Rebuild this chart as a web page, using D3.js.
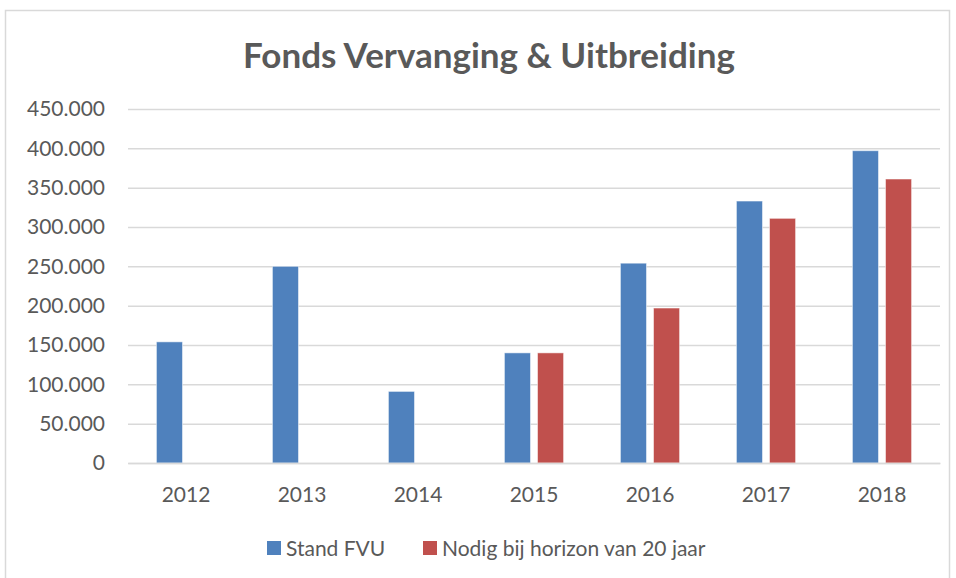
<!DOCTYPE html>
<html>
<head>
<meta charset="utf-8">
<script src="https://cdn.jsdelivr.net/npm/d3@7"></script>
<style>
  body { margin: 0; background: #fff; }
  text { font-family: Lato, "Open Sans", sans-serif; fill: #595959; }
</style>
</head>
<body>
<script>
const years = ['2012', '2013', '2014', '2015', '2016', '2017', '2018']
const standFVU = [154000, 250000, 91000, 140000, 254000, 333000, 397000]
const nodig = [null, null, null, 140000, 197000, 311000, 361000]
const seriesNames = ['Stand FVU', 'Nodig bij horizon van 20 jaar']
const seriesColors = ['#4F81BD', '#C0504D']
const yTicks = [0, 50000, 100000, 150000, 200000, 250000, 300000, 350000, 400000, 450000]

const W = 956, H = 578
const margin = { top: 109, right: 16, bottom: 115, left: 128 }
const width = W - margin.left - margin.right
const height = H - margin.top - margin.bottom

const svg = d3.select('body').append('svg')
    .attr('width', W)
    .attr('height', H)

// chart area border
svg.append('rect')
    .attr('x', 5.5).attr('y', 10.5)
    .attr('width', 944).attr('height', 600)
    .style('fill', 'none')
    .style('stroke', '#D9D9D9')
    .style('stroke-width', 1.5)

svg.append('text')
    .attr('x', 489)
    .attr('y', 68)
    .style('text-anchor', 'middle')
    .style('font-size', '35px')
    .style('font-weight', 'bold')
    .text('Fonds Vervanging & Uitbreiding')

const g = svg.append('g')
    .attr('transform', `translate(${margin.left}, ${margin.top})`)

const x0 = d3.scaleBand()
    .domain(years)
    .range([0, width])
    .padding(0)

const groupW = x0.bandwidth() * 0.51
const x1 = d3.scaleBand()
    .domain([0, 1])
    .range([(x0.bandwidth() - groupW) / 2, (x0.bandwidth() + groupW) / 2])
    .paddingInner(0.212)

const y = d3.scaleLinear()
    .domain([0, 450000])
    .range([height, 0])

const fmt = d => d3.format(',')(d).replace(/,/g, '.')

const yAxis = g.append('g')
    .call(d3.axisLeft(y).tickValues(yTicks).tickSize(-width).tickFormat(fmt))
yAxis.select('.domain').remove()
yAxis.selectAll('.tick line')
    .style('stroke', '#D9D9D9')
    .style('stroke-width', 1.5)
yAxis.selectAll('.tick text')
    .attr('x', -23)
    .style('font-size', '21px')
    .style('font-family', 'Lato, sans-serif')
    .style('fill', '#595959')

const series = [standFVU, nodig]
series.forEach((vals, si) => {
    g.selectAll('.bar' + si)
        .data(years.map((yr, i) => ({ yr, v: vals[i] })).filter(d => d.v != null))
        .enter().append('rect')
        .attr('class', 'bar' + si)
        .attr('x', d => x0(d.yr) + x1(si))
        .attr('y', d => y(d.v))
        .attr('width', x1.bandwidth())
        .attr('height', d => height - y(d.v))
        .style('fill', seriesColors[si])
        .style('stroke', '#fff')
        .style('stroke-opacity', 0.5)
        .style('stroke-width', 1)
})

const xAxis = g.append('g')
    .attr('transform', `translate(0, ${height})`)
    .call(d3.axisBottom(x0).tickSize(0))
xAxis.select('.domain')
    .style('stroke', '#D9D9D9')
    .style('stroke-width', 1.5)
xAxis.selectAll('.tick text')
    .attr('dy', '1.7em')
    .style('font-size', '21px')
    .style('font-family', 'Lato, sans-serif')
    .style('fill', '#595959')

// legend
const legend = svg.append('g')
const legendX = [267, 423]
seriesNames.forEach((name, i) => {
    legend.append('rect')
        .attr('x', legendX[i]).attr('y', 541)
        .attr('width', 14).attr('height', 14)
        .style('fill', seriesColors[i])
    legend.append('text')
        .attr('x', legendX[i] + 19)
        .attr('y', 556)
        .style('font-size', '21px')
        .text(name)
})
</script>
</body>
</html>
